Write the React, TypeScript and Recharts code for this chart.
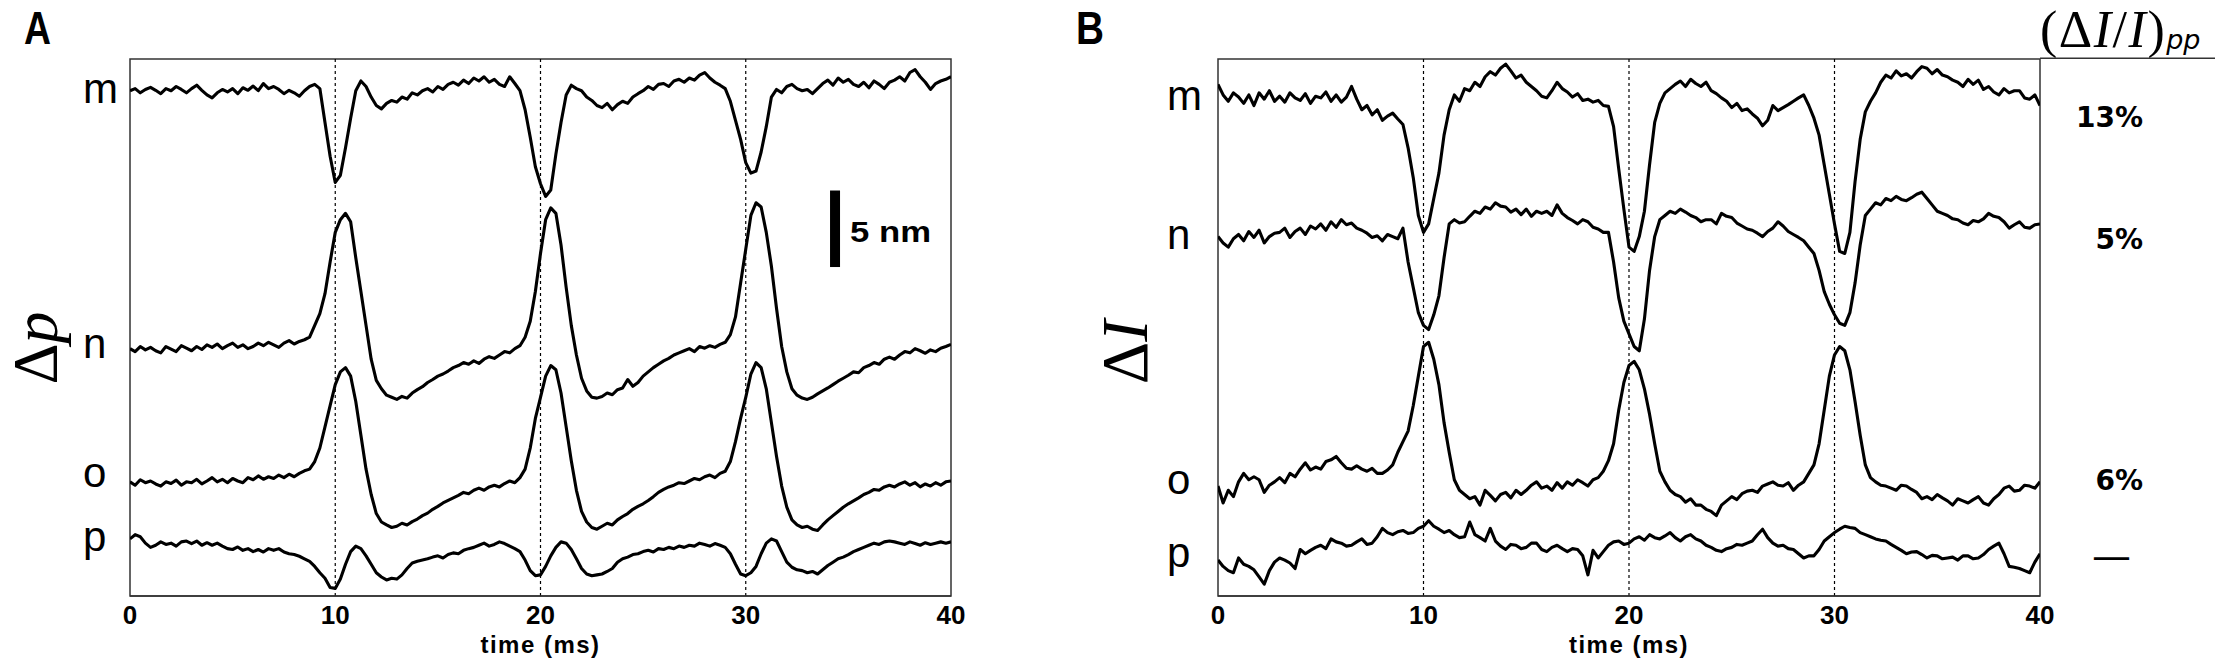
import React from 'react';
import { LineChart, Line, XAxis, YAxis, ReferenceLine, ReferenceArea } from 'recharts';

// Sampling grid of the traces (ms)
const SAMPLE_STEP_MS = 0.25;
const TIME_TICKS = [0, 10, 20, 30, 40];
const STIM_TIMES = [10, 20, 30];
const TRACE_KEYS = ['m', 'n', 'o', 'p'];

// Panel A: Δp traces (vertical units: 1270 = full panel height, 5 nm ≈ 181 units)
const aM = [
  1195, 1200, 1190, 1198, 1203, 1196, 1188, 1200, 1195, 1205, 1198, 1190, 1200, 1208, 1196, 1185,
  1178, 1190, 1198, 1192, 1200, 1188, 1202, 1196, 1206, 1195, 1212, 1200, 1205, 1198, 1188, 1196,
  1190, 1182, 1195, 1205, 1210, 1200, 1120, 1040, 978, 995, 1060, 1130, 1195, 1218, 1205, 1180,
  1160, 1152, 1165, 1172, 1168, 1180, 1175, 1190, 1185, 1195, 1200, 1192, 1205, 1198, 1210, 1215,
  1208, 1220, 1212, 1225, 1218, 1228, 1215, 1222, 1210, 1205, 1228, 1212, 1195, 1150, 1085, 1015,
  975, 945, 960, 1045, 1120, 1185, 1208, 1200, 1195, 1180, 1172, 1160, 1155, 1165, 1150, 1162,
  1170, 1165, 1180, 1188, 1195, 1205, 1198, 1210, 1212, 1205, 1218, 1222, 1215, 1225, 1220, 1232,
  1238, 1225, 1215, 1208, 1200, 1170, 1125, 1080, 1025, 1000, 1005, 1050, 1110, 1180, 1198, 1190,
  1205, 1210, 1200, 1195, 1198, 1188, 1200, 1212, 1220, 1208, 1225, 1215, 1222, 1210, 1205, 1215,
  1202, 1218, 1210, 1200, 1215, 1220, 1228, 1218, 1238, 1245, 1228, 1215, 1198, 1212, 1218, 1222,
  1228,
];
const aN = [
  585, 578, 590, 582, 588, 580, 575, 590, 584, 578, 592, 586, 580, 590, 583, 594,
  588, 596, 585, 592, 598, 588, 594, 585, 590, 598, 592, 600, 594, 588, 598, 604,
  596, 602, 606, 612, 640, 668, 715, 790, 860, 890, 905, 885, 800, 720, 640, 560,
  510, 490, 475, 470, 465, 472, 468, 480, 488, 495, 505, 512, 520, 525, 532, 540,
  545, 552, 548, 556, 550, 560, 566, 562, 570, 578, 575, 585, 592, 612, 650, 720,
  810, 890, 918, 905, 830, 730, 640, 570, 515, 485, 470, 468, 472, 480, 476, 488,
  492, 512, 496, 505, 520, 530, 540, 548, 556, 562, 570, 575, 580, 585, 578, 590,
  586, 592, 588, 595, 600, 618, 660, 740, 820, 900, 930, 920, 860, 780, 680, 590,
  530, 490, 475, 468, 465, 470, 478, 485, 492, 500, 508, 515, 522, 530, 528, 540,
  545, 552, 548, 560, 565, 560, 570, 578, 575, 585, 580, 574, 582, 578, 586, 590,
  595,
];
const aO = [
  270, 262, 275, 268, 272, 265, 260, 270, 266, 274, 262, 270, 268, 276, 265, 272,
  280, 270, 276, 268, 278, 272, 268, 280, 275, 284, 276, 282, 278, 286, 280, 288,
  282, 290, 296, 300, 318, 350, 400, 450, 500, 530, 540, 520, 460, 380, 300, 240,
  195, 175, 168, 162, 165, 172, 168, 176, 182, 190, 196, 205, 212, 220, 226, 232,
  238, 245, 242, 250, 255, 250, 258, 262, 258, 266, 272, 268, 280, 300, 350, 420,
  470, 520, 545, 535, 480, 400, 320, 250, 200, 175, 162, 158, 165, 172, 168, 180,
  188, 195, 205, 212, 218, 226, 235, 245, 252, 258, 262, 268, 266, 272, 278, 275,
  282, 286, 280, 290, 295, 318, 365, 420, 470, 525, 552, 540, 490, 410, 330, 260,
  210, 180, 168, 162, 165, 158, 155, 168, 180, 190, 200, 210, 218, 225, 232, 240,
  245, 252, 250, 258, 262, 258, 265, 270, 262, 268, 258, 265, 260, 268, 262, 270,
  272,
];
const aP = [
  135, 145, 140, 125, 115, 120, 128, 122, 125, 118, 128, 130, 124, 130, 120, 126,
  120, 125, 118, 112, 110, 116, 108, 112, 105, 110, 104, 112, 108, 112, 104, 100,
  98, 94, 88, 82, 70, 55, 42, 20, 18, 40, 75, 105, 118, 112, 95, 75,
  55, 45, 38, 42, 40, 50, 65, 78, 82, 85, 88, 92, 95, 90, 98, 102,
  100, 108, 112, 115, 120, 125, 118, 122, 128, 124, 118, 112, 105, 85, 60, 48,
  50, 70, 95, 115, 128, 125, 110, 88, 65, 52, 48, 50, 52, 58, 65, 80,
  88, 92, 98, 100, 105, 108, 104, 112, 110, 115, 112, 118, 115, 120, 118, 125,
  122, 118, 124, 120, 115, 100, 75, 52, 48, 55, 70, 100, 125, 135, 130, 105,
  80, 68, 62, 60, 55, 58, 52, 62, 72, 80, 88, 92, 98, 105, 110, 115,
  120, 125, 122, 128, 130, 128, 125, 122, 128, 124, 120, 126, 122, 125, 128, 125,
  128,
];

// Panel B: ΔI traces (same vertical units)
const bM = [
  1210, 1185, 1170, 1190, 1180, 1165, 1185, 1160, 1190, 1175, 1195, 1170, 1182, 1168, 1190, 1178,
  1172, 1188, 1165, 1182, 1178, 1192, 1170, 1185, 1168, 1180, 1205, 1175, 1150, 1160, 1138, 1150,
  1125, 1135, 1142, 1128, 1115, 1060, 990, 900, 860, 880, 940, 1000, 1090, 1150, 1185, 1170,
  1200, 1195, 1215, 1205, 1228, 1240, 1232, 1248, 1258, 1242, 1225, 1232, 1215, 1205, 1195, 1182,
  1178, 1195, 1215, 1200, 1192, 1180, 1188, 1172, 1175, 1168, 1172, 1160, 1158, 1110, 1010, 915,
  825, 815, 850, 910, 1020, 1120, 1165, 1190, 1200, 1210, 1218, 1205, 1222, 1212, 1205, 1215,
  1195, 1188, 1178, 1170, 1155, 1165, 1148, 1152, 1140, 1130, 1112, 1125, 1160, 1148, 1155, 1162,
  1170, 1178, 1185, 1160, 1130, 1090, 1020, 950, 880, 815, 810, 860, 980, 1080, 1145, 1170,
  1190, 1215, 1232, 1225, 1242, 1230, 1235, 1225, 1240, 1252, 1248, 1235, 1245, 1232, 1228, 1220,
  1215, 1205, 1222, 1210, 1220, 1198, 1205, 1192, 1185, 1200, 1190, 1195, 1195, 1178, 1175, 1185,
  1160,
];
const bN = [
  850, 835, 825, 845, 855, 840, 862, 848, 865, 835, 850, 858, 860, 870, 848, 862,
  870, 855, 875, 868, 880, 865, 885, 872, 890, 878, 882, 870, 865, 858, 848, 852,
  840, 855, 850, 845, 870, 790, 730, 670, 640, 630, 665, 710, 800, 880, 890, 882,
  885, 898, 910, 905, 920, 915, 930, 922, 920, 908, 915, 902, 915, 898, 910, 905,
  910, 900, 925, 905, 895, 888, 880, 890, 885, 872, 868, 860, 860, 790, 705, 650,
  620, 590, 580, 655, 770, 850, 890, 900, 910, 905, 915, 908, 900, 895, 885, 890,
  890, 880, 905, 898, 895, 882, 875, 868, 865, 858, 850, 862, 870, 885, 875, 862,
  855, 848, 840, 825, 810, 770, 720, 690, 665, 645, 640, 670, 740, 830, 900, 915,
  930, 925, 940, 935, 945, 938, 935, 942, 950, 955, 940, 925, 910, 905, 900, 892,
  890, 882, 878, 888, 885, 892, 905, 898, 895, 885, 870, 878, 885, 872, 870, 878,
  880,
];
const bO = [
  260, 220, 250, 235, 270, 290, 275, 282, 275, 245, 262, 270, 280, 268, 290, 282,
  300, 315, 298, 305, 300, 318, 322, 330, 315, 302, 300, 308, 300, 295, 302, 290,
  290, 298, 310, 340, 365, 390, 450, 520, 590, 600, 560, 500, 410, 340, 275, 250,
  240, 230, 235, 215, 250, 238, 225, 240, 245, 232, 250, 240, 250, 262, 270, 255,
  260, 250, 268, 255, 270, 262, 275, 268, 260, 275, 280, 295, 320, 360, 440, 505,
  545, 555, 535, 490, 430, 360, 295, 270, 250, 240, 235, 222, 230, 215, 215, 205,
  200, 190, 215, 225, 235, 228, 242, 248, 250, 245, 260, 265, 270, 262, 260, 268,
  250, 262, 270, 290, 310, 360, 440, 520, 570, 590, 580, 535, 460, 380, 310, 280,
  270, 262, 260, 255, 250, 262, 260, 252, 245, 230, 235, 228, 240, 232, 225, 215,
  230, 225, 220, 228, 235, 220, 215, 230, 240, 255, 260, 248, 250, 262, 260, 255,
  270,
];
const bP = [
  85, 70, 60, 55, 90, 75, 70, 62, 45, 28, 60, 80, 90, 85, 78, 65,
  110, 100, 108, 115, 120, 112, 135, 128, 125, 118, 120, 128, 135, 122, 125, 140,
  160, 150, 145, 152, 155, 148, 150, 160, 165, 178, 165, 158, 150, 155, 145, 138,
  140, 175, 145, 138, 130, 160, 130, 118, 110, 122, 120, 112, 115, 125, 125, 110,
  105, 115, 120, 112, 105, 112, 110, 95, 50, 108, 90, 105, 120, 128, 130, 122,
  125, 135, 140, 132, 145, 138, 135, 142, 150, 138, 130, 140, 145, 135, 130, 120,
  115, 108, 105, 112, 115, 122, 120, 125, 130, 145, 158, 138, 125, 118, 120, 112,
  110, 100, 90, 95, 95, 110, 130, 140, 150, 158, 165, 162, 160, 150, 145, 140,
  135, 132, 130, 122, 115, 108, 100, 104, 105, 98, 90, 96, 95, 88, 90, 92,
  85, 95, 95, 88, 90, 98, 110, 118, 125, 100, 70, 68, 65, 60, 55, 80,
  100,
];

const PERCENT_LABELS = ['13%', '5%', '6%', '—'];

const Y_DOMAIN = [0, 1270];
// scale bar: 5 nm
const SCALE_BAR_T = 34.35;
const SCALE_BAR_Y = [778, 959];

function buildRows(m: number[], n: number[], o: number[], p: number[]) {
  return m.map((_, i) => ({ t: i * SAMPLE_STEP_MS, m: m[i], n: n[i], o: o[i], p: p[i] }));
}

const rowsA = buildRows(aM, aN, aO, aP);
const rowsB = buildRows(bM, bN, bO, bP);

const SANS = "'Liberation Sans', Arial, Helvetica, sans-serif";
const SERIF = "'Liberation Serif', 'Times New Roman', serif";
const DEJAVU = "'DejaVu Sans', Verdana, sans-serif";

function Panel({ rows, marginLeft, marginRight, scaleBar }: { rows: any[]; marginLeft: number; marginRight: number; scaleBar?: boolean }) {
  return (
    <LineChart
      width={1000}
      height={662}
      data={rows}
      margin={{ top: 59, right: marginRight, bottom: 26, left: marginLeft }}
    >
      <XAxis
        dataKey="t"
        type="number"
        domain={[0, 40]}
        ticks={TIME_TICKS}
        allowDataOverflow
        height={40}
        tickLine={false}
        tickSize={8}
        tickMargin={2}
        axisLine={{ stroke: '#333', strokeWidth: 1.5 }}
        tick={{ fontSize: 26, fontWeight: 700, fill: '#000', fontFamily: SANS }}
        label={{
          value: 'time (ms)',
          position: 'bottom',
          offset: 0,
          style: { fontSize: 24, fontWeight: 700, fill: '#000', fontFamily: SANS, letterSpacing: 1.5 },
        }}
      />
      <YAxis type="number" domain={Y_DOMAIN} allowDataOverflow hide />
      <ReferenceArea x1={0} x2={40} y1={Y_DOMAIN[0]} y2={Y_DOMAIN[1]} fill="none" stroke="#333" strokeWidth={1.5} />
      {STIM_TIMES.map((t) => (
        <ReferenceLine key={t} x={t} stroke="#000" strokeWidth={1.2} strokeDasharray="3 3" />
      ))}
      {TRACE_KEYS.map((k) => (
        <Line
          key={k}
          dataKey={k}
          type="linear"
          dot={false}
          stroke="#000"
          strokeWidth={3.1}
          strokeLinejoin="round"
          isAnimationActive={false}
        />
      ))}
      {scaleBar && (
        <ReferenceLine
          segment={[
            { x: SCALE_BAR_T, y: SCALE_BAR_Y[0] },
            { x: SCALE_BAR_T, y: SCALE_BAR_Y[1] },
          ]}
          stroke="#000"
          strokeWidth={10}
        />
      )}
    </LineChart>
  );
}

export default function App() {
  const rowLabelA = [
    { t: 'm', y: 103 },
    { t: 'n', y: 358 },
    { t: 'o', y: 487 },
    { t: 'p', y: 551 },
  ];
  const rowLabelB = [
    { t: 'm', y: 110 },
    { t: 'n', y: 249 },
    { t: 'o', y: 494 },
    { t: 'p', y: 567 },
  ];
  const pctY = [127, 249, 490];
  return (
    <div style={{ position: 'absolute', left: 0, top: 0, width: 2215, height: 662, background: '#fff', overflow: 'hidden' }}>
      <div style={{ position: 'absolute', left: 0, top: 0 }}>
        <Panel rows={rowsA} marginLeft={130} marginRight={49} scaleBar />
      </div>
      <div style={{ position: 'absolute', left: 1090, top: 0 }}>
        <Panel rows={rowsB} marginLeft={128} marginRight={50} />
      </div>
      <svg width={2215} height={662} style={{ position: 'absolute', left: 0, top: 0, pointerEvents: 'none' }}>
        <text x={24} y={44} fontFamily={SANS} fontWeight={700} fontSize={47} textLength={27} lengthAdjust="spacingAndGlyphs">A</text>
        <text x={1076} y={44} fontFamily={SANS} fontWeight={700} fontSize={47} textLength={28} lengthAdjust="spacingAndGlyphs">B</text>
        {rowLabelA.map((r) => (
          <text key={'a' + r.t} x={83} y={r.y} fontFamily={SANS} fontSize={42} fill="#000">{r.t}</text>
        ))}
        {rowLabelB.map((r) => (
          <text key={'b' + r.t} x={1167} y={r.y} fontFamily={SANS} fontSize={42} fill="#000">{r.t}</text>
        ))}
        <text x={57} y={348} transform="rotate(-90 57 348)" textAnchor="middle" fontFamily={SERIF} fontSize={64}>
          Δ<tspan fontStyle="italic">p</tspan>
        </text>
        <text x={1147} y={352} transform="rotate(-90 1147 352)" textAnchor="middle" fontFamily={SERIF} fontSize={66}>
          Δ<tspan fontStyle="italic">I</tspan>
        </text>
        <text x={850} y={242} fontFamily={SANS} fontWeight={700} fontSize={30} textLength={81} lengthAdjust="spacingAndGlyphs">5 nm</text>
        <text x={2040} y={47} fontFamily={SERIF} fontSize={52} letterSpacing={1.5}>
          (Δ<tspan fontStyle="italic">I</tspan>/<tspan fontStyle="italic">I</tspan>)
          <tspan fontFamily={DEJAVU} fontStyle="italic" fontSize={27} letterSpacing={0} dy={2}>pp</tspan>
        </text>
        <line x1={2040} x2={2215} y1={58.3} y2={58.3} stroke="#333" strokeWidth={1.5} />
        {pctY.map((y, i) => (
          <text key={i} x={2143} y={y} textAnchor="end" fontFamily={DEJAVU} fontWeight={700} fontSize={28}>{PERCENT_LABELS[i]}</text>
        ))}
        <text x={2092} y={569} fontFamily={DEJAVU} fontSize={39}>{PERCENT_LABELS[3]}</text>
      </svg>
    </div>
  );
}
